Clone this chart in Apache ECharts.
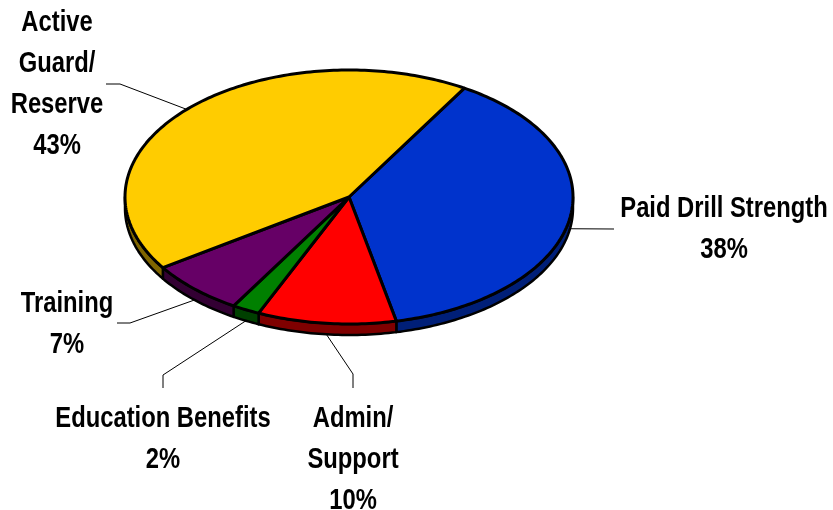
<!DOCTYPE html>
<html><head><meta charset="utf-8">
<script src="https://cdn.jsdelivr.net/npm/echarts/dist/echarts.min.js"></script>
<style>html,body{margin:0;padding:0;background:#fff}#c{width:833px;height:510px}</style>
</head><body><div id="c"></div>
<script>
// ---- data ----
const categories = ['Paid Drill Strength', 'Admin/\nSupport', 'Education Benefits', 'Training', 'Active\nGuard/\nReserve'];
const values = [38, 10, 2, 7, 43];
const percentLabels = ['38%', '10%', '2%', '7%', '43%'];

// ---- style / layout ----
const topColors = ['#0033CC', '#FF0000', '#008000', '#660066', '#FFCC00'];
const sideColors = ['#001F78', '#7F0000', '#004000', '#330033', '#806600'];
const CX = 349, CY = 197, RX = 224, RY = 127, DEPTH = 11, START = 59;
const labelLayout = [
  { pts: [[614, 229]], text: [724, 188] },
  { pts: [[353, 374], [353, 388]], text: [353, 398] },
  { pts: [[163, 375], [163, 388]], text: [163, 398] },
  { pts: [[130, 323], [117, 323]], text: [67, 283] },
  { pts: [[120, 84], [106, 84]], text: [57, 2] }
];
const FONT = 'bold 29px "Liberation Sans", Arial, sans-serif';
const NARROW = 0.82;

const total = values.reduce((a, b) => a + b, 0);
const cumBefore = values.map((v, i) => values.slice(0, i).reduce((a, b) => a + b, 0));
const rad = d => d * Math.PI / 180;
const pt = (deg, dy) => [CX + RX * Math.cos(rad(deg)), CY - RY * Math.sin(rad(deg)) + (dy || 0)];
function arc(from, to, dy) {
  const out = [];
  const n = Math.max(2, Math.ceil(Math.abs(from - to)));
  for (let k = 0; k <= n; k++) out.push(pt(from + (to - from) * k / n, dy));
  return out;
}

function renderItem(params, api) {
  const i = params.dataIndex;
  const v = api.value(0);
  const a1 = START - cumBefore[i] / total * 360;
  const a2 = a1 - v / total * 360;
  const children = [];
  // side walls (lower half only)
  for (let k = -2; k <= 1; k++) {
    const lo = -180 + 360 * k, hi = 0 + 360 * k;
    const s1 = Math.min(a1, hi), s2 = Math.max(a2, lo);
    if (s1 > s2) {
      const poly = arc(s1, s2, 0).concat(arc(s2, s1, DEPTH));
      children.push({ type: 'polygon', z2: 1, shape: { points: poly },
        style: { fill: sideColors[i], stroke: '#000', lineWidth: 2.5, lineJoin: 'round' } });
    }
  }
  // top face
  const top = [[CX, CY]].concat(arc(a1, a2, 0));
  children.push({ type: 'polygon', z2: 10, shape: { points: top },
    style: { fill: topColors[i], stroke: '#000', lineWidth: 3, lineJoin: 'round' } });
  // leader line
  const m = (a1 + a2) / 2;
  const anchor = pt(m, Math.sin(rad(m)) < 0 ? DEPTH : 0);
  const L = labelLayout[i];
  children.push({ type: 'polyline', z2: 20, shape: { points: [anchor].concat(L.pts) },
    style: { stroke: '#000', lineWidth: 1, fill: null } });
  // label
  children.push({ type: 'text', z2: 30, x: L.text[0], y: L.text[1], scaleX: NARROW,
    style: { text: categories[i] + '\n' + percentLabels[i], font: FONT, fill: '#000',
      align: 'center', verticalAlign: 'top', lineHeight: 41 } });
  return { type: 'group', children };
}

const chart = echarts.init(document.getElementById('c'), null, { renderer: 'canvas' });
chart.setOption({
  animation: false,
  backgroundColor: '#fff',
  series: [{
    type: 'custom',
    coordinateSystem: 'none',
    renderItem,
    data: values.map(v => [v])
  }]
});
</script></body></html>
